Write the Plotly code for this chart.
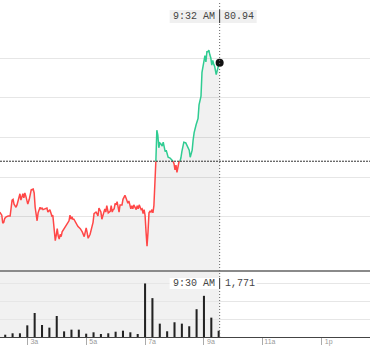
import pandas as pd
import plotly.graph_objects as go

DAY = "2024-03-15"

# ---- price series (time, last price) ----
price_times = [
    "02:04","02:08","02:10","02:12","02:14","02:17","02:21","02:25","02:29","02:31",
    "02:33","02:37","02:39","02:43","02:45","02:47","02:49","02:51","02:53","02:55",
    "02:57","02:59","03:01","03:04","03:06","03:08","03:12","03:14","03:16","03:18",
    "03:20","03:22","03:26","03:28","03:30","03:32","03:36","03:40","03:42","03:46",
    "03:48","03:50","03:52","03:54","03:57","03:59","04:01","04:03","04:05","04:07",
    "04:09","04:11","04:13","04:17","04:21","04:25","04:27","04:29","04:31","04:33",
    "04:35","04:39","04:43","04:48","04:52","04:56","04:58","05:00","05:02","05:04",
    "05:08","05:10","05:14","05:16","05:20","05:22","05:24","05:26","05:28","05:30",
    "05:32","05:34","05:36","05:38","05:40","05:42","05:45","05:49","05:51","05:53",
    "05:55","05:57","05:59","06:01","06:03","06:05","06:07","06:09","06:13","06:15",
    "06:19","06:21","06:23","06:25","06:27","06:29","06:31","06:33","06:35","06:37",
    "06:40","06:42","06:44","06:46","06:48","06:50","06:52","06:54","06:56","06:58",
    "07:00","07:02","07:04","07:06","07:08","07:10","07:12","07:14","07:16","07:18",
    "07:20","07:22","07:24","07:26","07:28","07:30","07:32","07:35","07:37","07:39",
    "07:41","07:43","07:45","07:47","07:51","07:55","07:57","07:59","08:01","08:03",
    "08:05","08:07","08:09","08:11","08:13","08:15","08:17","08:19","08:23","08:25",
    "08:27","08:30","08:32","08:34","08:36","08:38","08:40","08:44","08:46","08:48",
    "08:50","08:52","08:54","08:56","08:58","09:00","09:02","09:04","09:06","09:08",
    "09:10","09:12","09:14","09:16","09:18","09:20","09:22","09:25","09:27","09:29",
    "09:32",
]
prices = [
    79.06,79.02,78.92,78.93,78.98,79.00,79.01,79.01,79.21,79.22,
    79.16,79.12,79.15,79.24,79.29,79.21,79.27,79.29,79.24,79.30,
    79.26,79.22,79.16,79.22,79.30,79.34,79.35,79.30,79.12,79.05,
    78.95,79.05,79.12,79.10,79.11,79.09,79.10,79.11,79.06,79.09,
    79.05,79.01,79.02,78.91,78.70,78.77,78.85,78.76,78.72,78.78,
    78.75,78.81,78.83,78.87,78.90,78.95,79.02,78.97,79.00,78.97,
    78.97,78.93,78.88,78.85,78.81,78.75,78.81,78.86,78.80,78.73,
    78.78,78.83,78.93,79.04,79.06,79.04,79.01,79.11,79.07,79.06,
    78.97,79.02,79.05,79.10,79.06,79.14,79.05,79.07,79.14,79.06,
    79.09,79.10,79.17,79.15,79.19,79.11,79.06,79.15,79.15,79.22,
    79.27,79.24,79.21,79.17,79.20,79.15,79.10,79.14,79.10,79.15,
    79.12,79.09,79.14,79.10,79.15,79.12,79.09,79.10,79.04,79.09,
    79.02,78.81,78.63,78.81,79.05,79.07,79.06,79.09,79.05,79.14,
    79.40,79.70,80.09,80.03,79.87,79.93,79.92,79.89,79.94,79.88,
    79.82,79.84,79.78,79.75,79.74,79.72,79.70,79.67,79.59,79.65,
    79.56,79.65,79.69,79.70,79.74,79.82,79.90,79.94,79.93,79.90,
    79.88,79.84,79.75,79.80,79.84,79.97,80.06,80.16,80.22,80.24,
    80.41,80.47,80.52,80.82,80.91,80.97,81.03,80.95,81.08,81.08,
    81.10,81.04,81.00,80.91,80.97,80.92,80.89,80.79,80.85,80.89,
    80.94,
]
prev_close = 79.70

# ---- volume (15-minute bars) ----
vol_times = [
    "02:15","02:30","02:45","03:00","03:15","03:30","03:45","04:00","04:15","04:30",
    "04:45","05:00","05:15","05:30","05:45","06:00","06:15","06:30","06:45","07:00",
    "07:15","07:30","07:45","08:00","08:15","08:30","08:45","09:00","09:15","09:30",
]
volumes = [
    650,1050,1050,3300,6800,3400,2650,5950,1600,2080,
    2080,940,1330,850,1050,1500,1790,1330,850,15150,
    11000,3780,1620,4170,3780,3040,7870,11650,5480,1771,
]

tick_times = ["03:00", "05:00", "07:00", "09:00", "11:00", "13:00"]
tick_labels = ["3a", "5a", "7a", "9a", "11a", "1p"]
price_grid = [79.0, 79.5, 80.0, 80.5, 81.0]
vol_grid = [5000, 10000, 15000]

cursor_time = "09:32"
price_label = ("9:32 AM", "80.94")
vol_label = ("9:30 AM", "1,771")

x_range = [pd.Timestamp(f"{DAY} 02:04:22"), pd.Timestamp(f"{DAY} 14:38:24")]

RED = "#ff4747"
GREEN = "#2fcc92"
FILL = "rgba(0,0,0,0.055)"

ts = [pd.Timestamp(f"{DAY} {t}") for t in price_times]
cur = pd.Timestamp(f"{DAY} {cursor_time}")

# split line into below / above previous close (insert crossing points)
dt, dp = [ts[0]], [prices[0]]
for i in range(1, len(ts)):
    p0, p1 = prices[i - 1], prices[i]
    if (p0 - prev_close) * (p1 - prev_close) < 0:
        f = (prev_close - p0) / (p1 - p0)
        dt.append(ts[i - 1] + (ts[i] - ts[i - 1]) * f)
        dp.append(prev_close)
    dt.append(ts[i])
    dp.append(p1)
red_y = [p if p <= prev_close else None for p in dp]
green_y = [p if p >= prev_close else None for p in dp]

fig = go.Figure()
fig.add_trace(go.Scatter(x=ts, y=prices, mode="lines", fill="tozeroy",
                         fillcolor=FILL, line=dict(width=0), xaxis="x", yaxis="y"))
fig.add_trace(go.Scatter(x=dt, y=red_y, mode="lines", line=dict(color=RED, width=1.5),
                         connectgaps=False, xaxis="x", yaxis="y"))
fig.add_trace(go.Scatter(x=dt, y=green_y, mode="lines", line=dict(color=GREEN, width=1.5),
                         connectgaps=False, xaxis="x", yaxis="y"))
fig.add_trace(go.Scatter(x=[ts[-1]], y=[prices[-1]], mode="markers",
                         marker=dict(color="#111", size=8), xaxis="x", yaxis="y"))

vts = [pd.Timestamp(f"{DAY} {t}") for t in vol_times]
fig.add_trace(go.Bar(x=vts, y=volumes, width=250000, marker=dict(color="#222", line=dict(width=0)),
                     xaxis="x2", yaxis="y2"))

H = 355.0
def py(px):
    return 1 - px / H

shapes = [
    # shaded past region in volume pane
    dict(type="rect", xref="x2", yref="y2 domain", x0=x_range[0], x1=cur, y0=0, y1=1,
         fillcolor=FILL, line=dict(width=0), layer="below"),
    # previous close
    dict(type="line", xref="paper", yref="y", x0=0, x1=1, y0=prev_close, y1=prev_close,
         line=dict(color="#333", width=1, dash="2px,1px")),
    # cursor
    dict(type="line", xref="x", yref="paper", x0=cur, x1=cur, y0=py(337), y1=py(3),
         line=dict(color="#666", width=1, dash="1px,2px")),
    # price label boxes
    dict(type="rect", xref="x", xsizemode="pixel", xanchor=cur, x0=-50, x1=0,
         yref="paper", y0=py(23), y1=py(10), fillcolor="#f0f0f0", line=dict(width=0)),
    dict(type="rect", xref="x", xsizemode="pixel", xanchor=cur, x0=0, x1=37,
         yref="paper", y0=py(23), y1=py(10), fillcolor="#f0f0f0", line=dict(width=0)),
    dict(type="line", xref="x", x0=cur, x1=cur, yref="paper", y0=py(23), y1=py(10),
         line=dict(color="#333", width=1)),
    # volume label boxes
    dict(type="rect", xref="x", xsizemode="pixel", xanchor=cur, x0=-50, x1=37,
         yref="paper", y0=py(289), y1=py(278), fillcolor="white", line=dict(width=0)),
    dict(type="line", xref="x", x0=cur, x1=cur, yref="paper", y0=py(289), y1=py(278),
         line=dict(color="#333", width=1)),
]

mono = dict(family="Liberation Mono", size=10, color="#444")
annotations = [
    dict(x=cur, xref="x", y=py(16.5), yref="paper", text=price_label[0], showarrow=False,
         xanchor="right", yanchor="middle", xshift=-4, font=mono, borderpad=0),
    dict(x=cur, xref="x", y=py(16.5), yref="paper", text=price_label[1], showarrow=False,
         xanchor="left", yanchor="middle", xshift=3, font=mono, borderpad=0),
    dict(x=cur, xref="x", y=py(283.5), yref="paper", text=vol_label[0], showarrow=False,
         xanchor="right", yanchor="middle", xshift=-4, font=mono, borderpad=0),
    dict(x=cur, xref="x", y=py(283.5), yref="paper", text=vol_label[1], showarrow=False,
         xanchor="left", yanchor="middle", xshift=4, font=mono, borderpad=0),
]

fig.update_layout(
    width=370, height=355, margin=dict(l=0, r=0, t=0, b=0),
    paper_bgcolor="white", plot_bgcolor="white", showlegend=False, hovermode=False,
    shapes=shapes, annotations=annotations,
    xaxis=dict(domain=[0, 1], anchor="y", range=x_range, type="date", showticklabels=False,
               showgrid=False, zeroline=False, showline=True, linecolor="#8a8a8a", linewidth=1.5,
               ticks=""),
    yaxis=dict(domain=[py(270), 1], range=[78.3301, 81.7305], tickvals=price_grid,
               showticklabels=False, gridcolor="#e6e6e6", gridwidth=1, zeroline=False, ticks=""),
    xaxis2=dict(domain=[0, 1], anchor="y2", range=x_range, type="date",
                tickvals=[pd.Timestamp(f"{DAY} {t}") for t in tick_times], ticktext=tick_labels,
                showgrid=False, zeroline=False, showline=True, linecolor="#444", linewidth=1,
                ticks="outside", ticklen=7, tickcolor="#aaa", tickwidth=1,
                tickfont=dict(family="Liberation Sans", size=7, color="#999"),
                ticklabelshift=7, ticklabelstandoff=-9),
    yaxis2=dict(domain=[py(337), py(270)], range=[0, 18960], tickvals=vol_grid,
                showticklabels=False, gridcolor="#e6e6e6", gridwidth=1, zeroline=False, ticks=""),
)

fig.write_html("out.html")
